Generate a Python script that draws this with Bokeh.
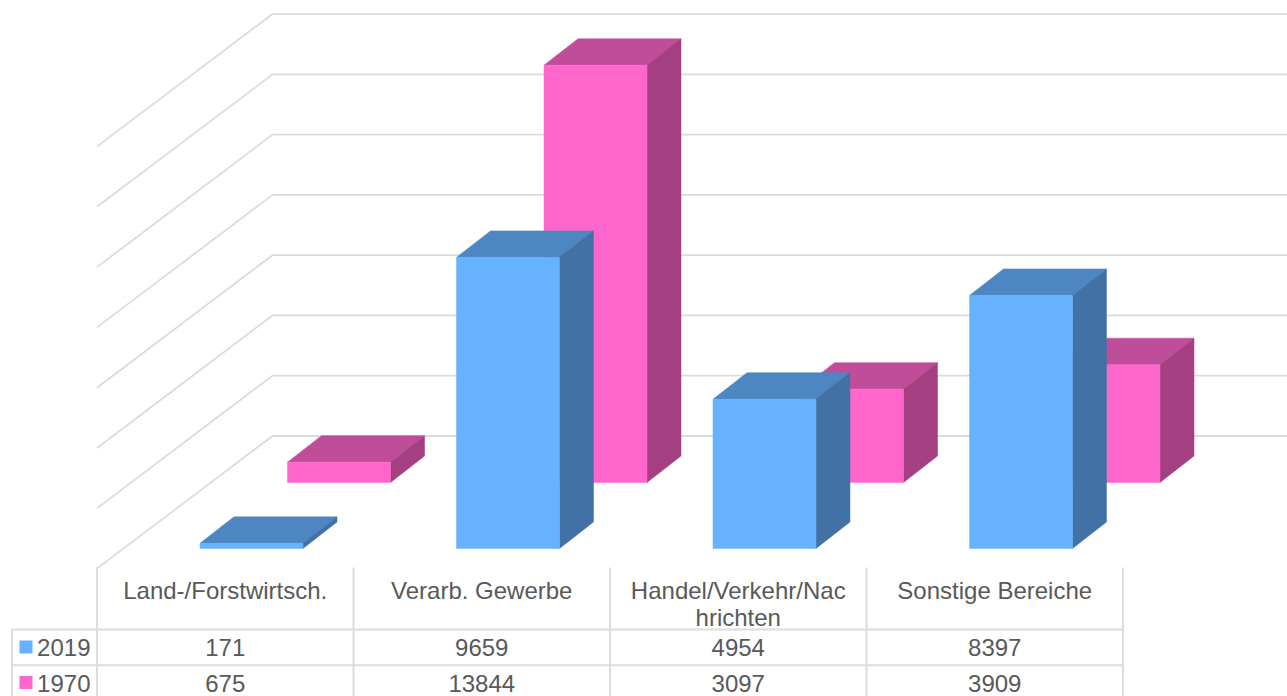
from bokeh.plotting import figure
from bokeh.models import Range1d
from bokeh.core.properties import value
from bokeh.embed import file_html
from bokeh.resources import INLINE

# ---- data ----
categories = ["Land-/Forstwirtsch.", "Verarb. Gewerbe", "Handel/Verkehr/Nac\nhrichten", "Sonstige Bereiche"]
values_2019 = [171, 9659, 4954, 8397]
values_1970 = [675, 13844, 3097, 3909]
series_names = ["2019", "1970"]
grid_values = [0, 2000, 4000, 6000, 8000, 10000, 12000, 14000]

# ---- layout (page pixels of the 1287x696 window) ----
W, H = 1287, 696
PX_PER_UNIT = 0.03014     # vertical pixels per value unit
CAT_PX = 256.5            # width of one category / table column
X0 = 96.5                 # left edge of the first table column
BASE0 = 435.5             # pixel row of value 0 on the back wall

x_range = Range1d(-X0 / CAT_PX, (W - X0) / CAT_PX)
y_range = Range1d((BASE0 - H) / PX_PER_UNIT, BASE0 / PX_PER_UNIT)


def dx(px):
    return px / CAT_PX


def dy(px):
    return px / PX_PER_UNIT


def row(py):
    """value coordinate of pixel row py"""
    return (BASE0 - py) / PX_PER_UNIT


p = figure(width=W, height=H, x_range=x_range, y_range=y_range, output_backend="svg",
           toolbar_location=None, min_border=0)
p.axis.visible = False
p.grid.visible = False
p.outline_line_color = None
p.background_fill_color = "white"

GRID = "#dcdcdc"
# walls
WALL_DX, WALL_DY = 175.5, 132.5
for v in grid_values:
    p.line([0, dx(WALL_DX), dx(W - X0)], [v - dy(WALL_DY), v, v], line_color=GRID, line_width=1.8)

# bars
BAR_W = dx(103)
BAR_OFF = dx(103)
DEPTH_X, DEPTH_Y = dx(34), dy(26.5)
series_styles = [
    dict(vals=values_1970, shift_x=dx(87.5), base=row(482), front="#FF66CC", top="#BF4D99", side="#A44082"),
    dict(vals=values_2019, shift_x=0.0, base=row(548), front="#66B2FF", top="#4D86C0", side="#4272A5"),
]
for s in series_styles:
    for i, v in enumerate(s["vals"]):
        l = i + BAR_OFF + s["shift_x"]
        r = l + BAR_W
        b = s["base"]
        t = b + v
        p.patch([l + DEPTH_X, r + DEPTH_X, r, l], [t + DEPTH_Y, t + DEPTH_Y, t, t],
                fill_color=s["top"], line_color=s["top"], line_width=0.5)
        p.patch([r, r + DEPTH_X, r + DEPTH_X, r], [b, b + DEPTH_Y, t + DEPTH_Y, t],
                fill_color=s["side"], line_color=s["side"], line_width=0.5)
        p.patch([l, r, r, l], [b, b, t, t],
                fill_color=s["front"], line_color=s["front"], line_width=0.5)

# data table
n = len(categories)
LEFT = dx(11.5 - X0)
for i in range(n + 1):
    p.line([i, i], [row(567), row(696)], line_color=GRID, line_width=2)
p.line([LEFT, LEFT], [row(629), row(696)], line_color=GRID, line_width=2)
for py in (629, 664.7):
    p.line([LEFT, n], [row(py), row(py)], line_color=GRID, line_width=2)

TEXT = "#595959"
FONT = value("Liberation Sans")
SIZE = "24px"
text_args = dict(text_font=FONT, text_font_size=SIZE, text_color=TEXT, text_align="center")
centers = [i + 0.5 for i in range(n)]
p.text(centers, [row(576)] * n, text=categories, text_baseline="top", text_line_height=1.0, **text_args)
p.text(centers, [row(646.5)] * n, text=[str(v) for v in values_2019], text_baseline="middle", **text_args)
p.text(centers, [row(682.5)] * n, text=[str(v) for v in values_1970], text_baseline="middle", **text_args)

# legend keys and series names in the table
for name, py, color in zip(series_names, (646.5, 682), ("#66B2FF", "#FF66CC")):
    p.quad(left=dx(19 - X0), right=dx(32 - X0), bottom=row(py + 6.5), top=row(py - 6.5),
           fill_color=color, line_color=None)
    p.text([dx(90 - X0)], [row(py + 0.5)], text=[name], text_font=FONT, text_font_size=SIZE,
           text_color=TEXT, text_align="right", text_baseline="middle")

open("out.html", "w").write(file_html(p, INLINE))
